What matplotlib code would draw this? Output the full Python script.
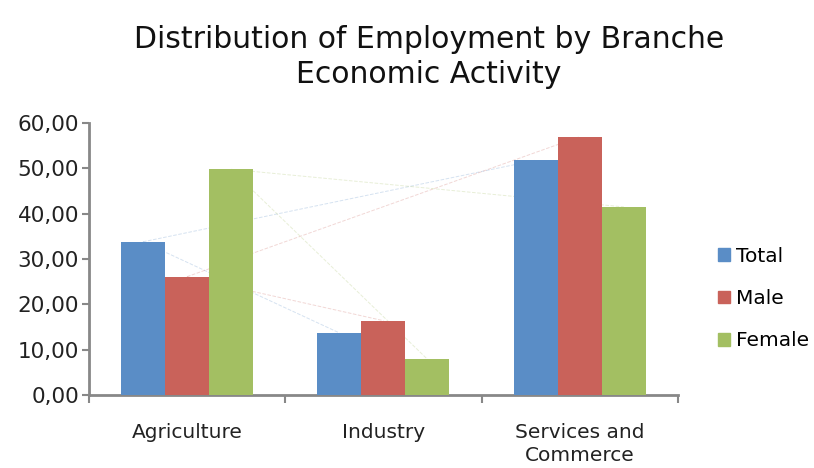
import numpy as np
import matplotlib
matplotlib.use('Agg')
import matplotlib.pyplot as plt
from matplotlib.ticker import FuncFormatter
from matplotlib.patches import Patch

## Data
categories = ['Agriculture', 'Industry', 'Services and\nCommerce']
series = ['Total', 'Male', 'Female']
total = [33.8, 13.7, 51.8]
male = [26.1, 16.4, 57.0]
female = [49.8, 7.9, 41.5]
colors = ['#5a8dc6', '#c9625a', '#a3bf62']

## Figure
fig = plt.figure(figsize=(8.14, 4.68), dpi=100)
ax = fig.add_axes([0.109, 0.156, 0.724, 0.581])

x = np.arange(len(categories))
w = 0.224
values = [total, male, female]
for i, (vals, c) in enumerate(zip(values, colors)):
    ax.bar(x + (i - 1) * w, vals, w, color=c, zorder=3)

# faint connecting lines seen behind the bars
for i, (vals, c) in enumerate(zip(values, colors)):
    xs = x + (i - 1) * w
    ax.plot([xs[0], xs[1]], [vals[0], vals[1]], color=c, lw=0.7,
            ls='--', alpha=0.25, zorder=1)
    ax.plot([xs[0], xs[2]], [vals[0], vals[2]], color=c, lw=0.7,
            ls='--', alpha=0.25, zorder=1)

ax.set_xlim(-0.5, 2.5)
ax.set_ylim(0, 60)
ax.set_yticks(np.arange(0, 61, 10))
ax.yaxis.set_major_formatter(FuncFormatter(lambda v, p: ('%.2f' % v).replace('.', ',')))
ax.set_xticks([-0.5, 0.5, 1.5, 2.5])
ax.set_xticklabels([])
ax.set_xticks(x, minor=True)
ax.set_xticklabels(categories, minor=True, fontsize=14.5, color='#222222',
                   linespacing=1.3)
ax.tick_params(axis='x', which='minor', length=0, pad=20)
ax.tick_params(axis='x', which='major', length=6, width=1.5, color='#888888')
ax.tick_params(axis='y', length=5, width=1.5, color='#888888',
               labelsize=15.5, labelcolor='#222222', pad=2)

for s in ['top', 'right']:
    ax.spines[s].set_visible(False)
for s in ['left', 'bottom']:
    ax.spines[s].set_color('#888888')
    ax.spines[s].set_linewidth(2)

fig.text(0.527, 0.915, 'Distribution of Employment by Branche', ha='center',
         va='center', fontsize=21.5, color='#111111')
fig.text(0.527, 0.84, 'Economic Activity', ha='center', va='center',
         fontsize=21.5, color='#111111')

handles = [Patch(color=c, label=s) for c, s in zip(colors, series)]
fig.legend(handles=handles, loc='center left', bbox_to_anchor=(0.882, 0.362),
           frameon=False, fontsize=14.5, handlelength=0.6, handleheight=0.6,
           handletextpad=0.3, labelspacing=1.15, borderaxespad=0, borderpad=0)

fig.savefig('out.png', dpi=100)
